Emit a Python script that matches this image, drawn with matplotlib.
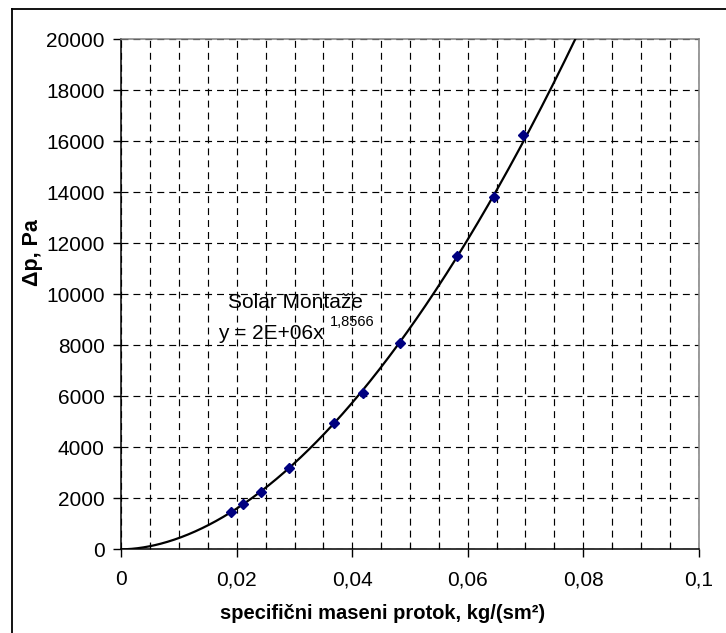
import numpy as np
import matplotlib
matplotlib.use("Agg")
import matplotlib.pyplot as plt
from matplotlib.lines import Line2D
from matplotlib.ticker import FuncFormatter, MultipleLocator

plt.rcParams['font.family'] = ['Liberation Sans', 'DejaVu Sans']
plt.rcParams['lines.scale_dashes'] = False

# measured points (Solar Montaze)
protok = [0.0190, 0.0211, 0.0242, 0.0291, 0.0369, 0.0418, 0.0482, 0.0582, 0.0646, 0.0695]
dp = [1475, 1776, 2247, 3200, 4965, 6141, 8102, 11502, 13804, 16259]

x_ticks = [0, 0.02, 0.04, 0.06, 0.08, 0.1]
y_ticks = list(range(0, 20001, 2000))

# power trendline, like excel does it
b, ln_a = np.polyfit(np.log(protok), np.log(dp), 1)
a = np.exp(ln_a)
xs = np.linspace(0.0, 0.1, 500)
ys = a * xs ** b

fig = plt.figure(figsize=(7.26, 6.33), dpi=100)
ax = fig.add_axes([0.1671, 0.1322, 0.7953, 0.8054])

ax.plot(xs, ys, color='black', lw=1.6, zorder=3)
ax.plot(protok, dp, linestyle='none', marker='D', markersize=5.5,
        color='#000080', zorder=4)

ax.set_xlim(0, 0.1)
ax.set_ylim(0, 20000)
ax.set_xticks(x_ticks)
ax.set_yticks(y_ticks)
ax.xaxis.set_minor_locator(MultipleLocator(0.005))
ax.xaxis.set_major_formatter(FuncFormatter(lambda v, p: ('%g' % round(v, 3)).replace('.', ',')))

ax.grid(True, which='both', axis='x', color='black', lw=0.85, linestyle=(0, (5, 3.6)))
ax.grid(True, which='major', axis='y', color='black', lw=0.85, linestyle=(0, (5, 3.6)))
ax.set_axisbelow(True)

ax.tick_params(axis='both', which='major', direction='out', length=6, width=1,
               labelsize=15, pad=6)
ax.tick_params(axis='x', which='minor', direction='in', length=4, width=0.8)
ax.tick_params(axis='x', which='major', pad=9)

for s in ['left', 'bottom']:
    ax.spines[s].set_color('black')
    ax.spines[s].set_linewidth(1.1)
for s in ['top', 'right']:
    ax.spines[s].set_color('#808080')
    ax.spines[s].set_linewidth(1.1)

ax.set_ylabel('Δp, Pa', fontsize=15.5, fontweight='bold', va='center')
ax.yaxis.set_label_coords(-0.153, 0.583)
ax.set_xlabel('specifični maseni protok, kg/(sm²)', fontsize=14.5, fontweight='bold', va='center')
ax.xaxis.set_label_coords(0.453, -0.125)

ax.text(0.0184, 9702, 'Solar Montaže', fontsize=15, va='center', ha='left')
ax.text(0.0167, 8486, 'y = 2E+06x', fontsize=15, va='center', ha='left')
ax.text(0.0361, 8920, '1,8566', fontsize=10.5, va='center', ha='left')

# outer chart frame (only left and top visible)
fig.add_artist(Line2D([12 / 726, 12 / 726], [0, 1 - 9 / 633], color='black', lw=1.3))
fig.add_artist(Line2D([12 / 726, 1], [1 - 9 / 633, 1 - 9 / 633], color='black', lw=1.3))

fig.savefig('out.png', dpi=100)
